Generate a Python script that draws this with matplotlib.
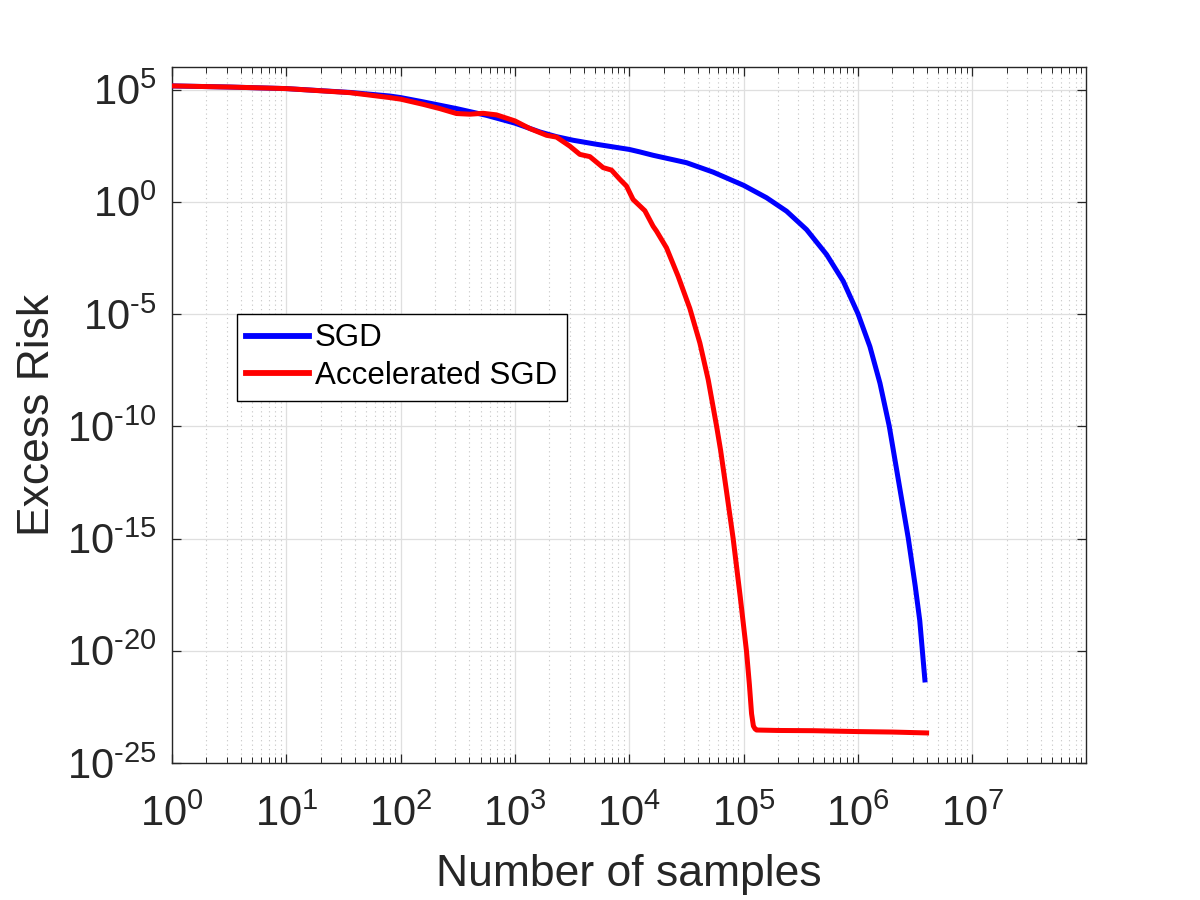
import numpy as np
import matplotlib
matplotlib.use("Agg")
import matplotlib.pyplot as plt
from matplotlib.ticker import FixedLocator, LogLocator, NullLocator, FuncFormatter

# valores (exponentes en base 10)
sgd_logx = [0.0, 0.5, 1.0, 1.555, 1.905, 2.0, 2.196, 2.488, 2.75, 3.0, 3.217,
            3.363, 3.508, 3.713, 4.0, 4.092, 4.208, 4.5, 4.733, 5.0, 5.2,
            5.375, 5.55, 5.725, 5.871, 6.0, 6.104, 6.192, 6.273, 6.35, 6.44,
            6.5, 6.54, 6.585]
sgd_logy = [5.16, 5.11, 5.04, 4.87, 4.71, 4.64, 4.45, 4.15, 3.85, 3.50, 3.11,
            2.90, 2.74, 2.56, 2.33, 2.22, 2.07, 1.74, 1.32, 0.73, 0.18,
            -0.42, -1.24, -2.35, -3.54, -4.99, -6.45, -8.08, -9.99, -12.3,
            -15.0, -17.1, -18.65, -21.3]

acc_logx = [0.0, 0.5, 1.0, 1.555, 1.905, 2.0, 2.196, 2.342, 2.488, 2.605, 2.721,
            2.838, 3.0, 3.13, 3.276, 3.363, 3.479, 3.567, 3.655, 3.771, 3.844,
            3.917, 3.975, 4.033, 4.136, 4.208, 4.238, 4.325, 4.427, 4.529,
            4.617, 4.69, 4.763, 4.798, 4.85, 4.908, 4.97, 5.025, 5.05, 5.069,
            5.085, 5.1, 5.113, 5.3, 5.608, 6.0, 6.3, 6.6]
acc_logy = [5.16, 5.11, 5.04, 4.86, 4.64, 4.57, 4.34, 4.15, 3.93, 3.90, 3.94,
            3.87, 3.60, 3.26, 2.96, 2.88, 2.48, 2.11, 2.01, 1.52, 1.41,
            1.0, 0.70, 0.10, -0.40, -1.09, -1.31, -2.05, -3.32, -4.75,
            -6.29, -7.93, -9.99, -11.06, -12.9, -15.0, -17.6, -20.03, -21.5, -22.8,
            -23.35, -23.48, -23.53, -23.55, -23.56, -23.6, -23.62, -23.66]

xticks = [1e0, 1e1, 1e2, 1e3, 1e4, 1e5, 1e6, 1e7]
yticks = [1e-25, 1e-20, 1e-15, 1e-10, 1e-5, 1e0, 1e5]

plt.rcParams['font.family'] = ['Liberation Sans', 'DejaVu Sans']
plt.rcParams['mathtext.fontset'] = 'custom'
plt.rcParams['mathtext.rm'] = 'Liberation Sans'
plt.rcParams['mathtext.it'] = 'Liberation Sans:italic'
plt.rcParams['mathtext.bf'] = 'Liberation Sans:bold'

txt = '#262626'

fig = plt.figure(figsize=(12, 9), dpi=100)
ax = fig.add_axes([0.1433, 0.1522, 0.7617, 0.7733])

ax.plot(10 ** np.array(sgd_logx), 10 ** np.array(sgd_logy), color='#0000ff',
        lw=3.6, label='SGD', zorder=3, solid_joinstyle='round')
ax.plot(10 ** np.array(acc_logx), 10 ** np.array(acc_logy), color='#ff0000',
        lw=3.6, label='Accelerated SGD', zorder=3, solid_joinstyle='round')

ax.set_xscale('log')
ax.set_yscale('log')
ax.set_xlim(1, 10 ** 7.994)
ax.set_ylim(1e-25, 1e6)

def fmt(v, pos):
    e = int(round(np.log10(v)))
    s = str(e).replace('-', '\u2010')
    return r'$\mathregular{10^{%s}}$' % s

ax.xaxis.set_major_locator(FixedLocator(xticks))
ax.xaxis.set_minor_locator(LogLocator(base=10, subs=np.arange(2, 10), numticks=100))
ax.yaxis.set_major_locator(FixedLocator(yticks))
ax.yaxis.set_minor_locator(NullLocator())
ax.xaxis.set_major_formatter(FuncFormatter(fmt))
ax.yaxis.set_major_formatter(FuncFormatter(fmt))

ax.tick_params(which='both', direction='in', top=True, right=True, colors=txt,
               labelsize=30)
ax.tick_params(which='major', length=6.5, width=0.9)
ax.tick_params(which='minor', length=4, width=0.7)
ax.tick_params(axis='x', which='major', pad=23)
ax.tick_params(axis='y', which='major', pad=11)

ax.grid(which='major', color='#dfdfdf', lw=0.9, ls='-', zorder=0)
ax.grid(which='minor', axis='x', color='#c4c4c4', lw=0.8, ls=(0, (1, 3)), zorder=0)
ax.set_axisbelow(True)

for s in ax.spines.values():
    s.set_color(txt)
    s.set_linewidth(1.0)

ax.set_xlabel('Number of samples', fontsize=32, color=txt)
ax.set_ylabel('Excess Risk', fontsize=32, color=txt)
ax.xaxis.set_label_coords(0.5, -0.131)
ax.yaxis.set_label_coords(-0.125, 0.5)

leg = ax.legend(loc='upper left', bbox_to_anchor=(0.0711, 0.645), borderaxespad=0,
                fontsize=22.5, fancybox=False, framealpha=1, edgecolor='#000000',
                handlelength=2.0, handletextpad=0.2, borderpad=0.3, labelspacing=0.25)
leg.get_frame().set_linewidth(1.0)
for h in leg.get_lines():
    h.set_linewidth(4.2)

plt.savefig('out.png')
plt.close()
